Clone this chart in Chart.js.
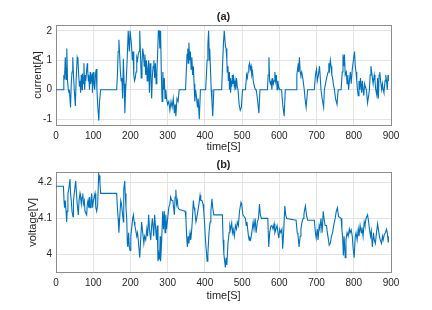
<!DOCTYPE html>
<html>
<head>
<meta charset="utf-8">
<script src="https://cdn.jsdelivr.net/npm/chart.js@4.4.0/dist/chart.umd.min.js"></script>
<style>
  html, body { margin: 0; padding: 0; background: #fff; }
  .panel { position: absolute; left: 0; width: 432px; height: 155px; }
</style>
</head>
<body>
<div class="panel" style="top:0"><canvas id="current-chart" width="432" height="155"></canvas></div>
<div class="panel" style="top:155px"><canvas id="voltage-chart" width="432" height="155"></canvas></div>
<script>
// ===== values: [time s, value] =====
const currentData = [
  [0,0],[20,0],[21,0.45],[23,0.4],[25,1.1],[27,0.35],[29,1.4],[31,0.3],[33,0],[35,-0.1],
  [36,0],[39,-0.6],[41,0.2],[43,0.6],[45,1.1],[47,0.5],[49,0],[52,-0.55],[54,0.3],[57,1.1],
  [59,1.0],[61,0.5],[63,0.1],[65,0.3],[66,-0.1],[68,0.5],[70,0],[71,0.55],[73,0.2],[75,0.9],
  [77,0],[79,0.5],[80,0.3],[82,0.6],[84,0.9],[85,0.7],[87,0.3],[88,0.5],[90,0],[92,0.6],
  [93,0.2],[95,0.35],[97,0.55],[98,-0.1],[100,0.6],[102,0.2],[104,0],[106,0.5],[108,0.7],[110,0],
  [112,-0.5],[115,-1.05],[117,-0.4],[120,0],[163,0],
  [165,0.5],[167,1.3],[169,1.7],[171,1.2],[173,0.6],[175,0.3],[177,0.4],[179,-0.3],[181,1.05],[183,0.2],
  [185,-0.8],[187,0],[189,0.4],[192,1.3],[194,2.0],[196,2.0],[197,1.3],[199,2.0],[201,2.0],[203,1.5],
  [205,1.0],[207,1.3],[209,0.5],[211,0.3],[213,0.4],[215,0.6],[217,1.1],[219,1.0],[221,1.2],[223,1.3],
  [225,2.0],[227,1.2],[229,0.4],[231,0.9],[233,1.4],[235,1.2],[237,0.8],[239,1.2],[241,0.5],[243,1.0],
  [245,0.3],[247,0.7],[249,1.0],[251,-0.1],[253,0.9],[255,0.5],[257,-0.3],[259,0.5],[261,0.8],[263,1.0],
  [265,0.4],[267,0.9],[269,0.2],[271,0.6],[273,1.2],[275,2.0],[277,2.0],[279,1.4],[281,2.0],[283,0.5],
  [285,-0.4],[287,0.6],[289,0],[291,0.4],[293,-0.3],[295,0],[297,-0.3],[300,-0.5],[303,-0.4],[306,-0.7],
  [309,-0.4],[312,-0.6],[315,-0.3],[318,-0.8],[320,-0.5],[322,-0.9],[325,-0.3],[328,-0.4],[331,0],[348,0],
  [350,0.6],[352,1.2],[354,1.4],[355,0.9],[357,1.6],[359,1.0],[361,1.3],[363,0.7],[365,1.1],[367,0.5],
  [369,0.8],[371,0.2],[373,-0.4],[375,0],[377,-0.2],[380,-0.6],[382,-0.3],[385,-1.0],[388,0],[402,0],
  [404,0.5],[406,1.0],[408,1.5],[410,2.0],[412,1.0],[413,1.4],[415,0.7],[417,0],[419,-0.4],[421,-0.9],
  [424,0],[445,0],
  [448,1.0],[450,1.6],[452,2.0],[454,2.0],[455,1.5],[457,1.4],[459,1.0],[460,0.6],[462,0.8],[463,0.3],
  [465,0.6],[466,0],[468,0.4],[469,-0.1],[471,0.3],[472,0.1],[474,0.5],[475,0.2],[477,0.4],[479,0.1],
  [481,0.3],[483,0],[485,0.4],[487,0.1],[489,0],[492,-0.5],[495,-0.7],[498,-0.6],[501,0],[509,0],
  [512,0.5],[514,0.4],[516,0.6],[518,0.8],[520,0.9],[522,0.7],[524,0.8],[526,0.5],[528,0.6],[530,0.3],
  [533,0.1],[536,0],[538,0],[541,-0.3],[545,-0.8],[548,0],[568,0],
  [570,0.5],[572,1.1],[574,0.3],[576,0.2],[578,0.3],[580,0],[582,0.4],[584,0.2],[586,0.3],[588,0.6],
  [590,0.3],[592,0.5],[594,0],[596,0.3],[598,0.1],[601,0],[606,0],[609,-0.5],[613,-0.9],[616,0],[645,0],
  [647,0.5],[649,0.7],[651,0.9],[652,0.6],[654,1.1],[656,0.6],[658,0.5],[660,0.6],[663,0.4],[665,0.2],
  [667,0],[669,-0.3],[672,-0.6],[676,0],[694,0],
  [697,0.5],[700,0.7],[702,0.3],[705,0.5],[708,0.8],[710,0.4],[712,0],[715,-0.3],[719,-0.6],[721,0],
  [724,0.2],[727,0.4],[731,0.6],[733,0.9],[735,0.7],[737,1.0],[739,0.8],[741,0.5],[743,0.4],[745,0.2],
  [748,0],[751,-0.3],[755,-0.5],[758,0],[766,0],
  [769,0.6],[771,1.2],[773,0.8],[775,1.2],[777,0.5],[780,0.6],[782,0.2],[784,0.5],[786,0],[789,0.4],
  [791,0.6],[793,0.2],[796,0.7],[799,1.0],[802,1.3],[804,0.8],[806,0.6],[808,0.3],[810,0],[812,-0.2],
  [814,0.3],[816,0],[818,0.4],[821,-0.1],[823,0.3],[825,0],[827,-0.2],[829,0.2],[831,0.1],[834,0],
  [837,-0.45],[840,-0.2],[842,0],[844,0.5],[846,0.8],[848,0.6],[850,0.4],[852,0.2],[855,0.5],[857,0.3],
  [859,0],[862,-0.2],[864,0.4],[866,-0.3],[868,0.5],[870,0.6],[872,0.3],[875,0],[877,0.2],[879,0],
  [881,-0.1],[884,0.3],[886,0.5],[888,0.3],[890,0],[892,0.5],[893,0.3]
];

const voltageData = [
  [0,4.19],[20,4.19],[21.5,4.15],[23,4.13],[25,4.15],[27,4.12],[28.7,4.09],[30,4.12],[32,4.17],[34,4.18],
  [37.6,4.21],[39,4.17],[41,4.15],[43,4.12],[45.7,4.105],[47,4.15],[49,4.17],[52.9,4.205],[55,4.17],[57,4.14],
  [60,4.11],[62,4.15],[64.5,4.17],[66,4.16],[68,4.14],[70,4.16],[72,4.17],[73.5,4.14],[76,4.15],[78,4.12],
  [82.4,4.11],[84,4.14],[86,4.15],[88,4.13],[90,4.16],[91.4,4.13],[94,4.15],[96,4.17],[98,4.13],[100.4,4.15],
  [104.8,4.17],[107,4.13],[109.3,4.12],[112,4.14],[114.7,4.225],[116,4.22],[118,4.20],[120,4.17],[163,4.17],
  [165,4.13],[167,4.10],[169,4.06],[171,4.10],[174,4.15],[176,4.14],[178,4.12],[181,4.09],[182,4.18],[184.6,4.205],
  [186,4.17],[188,4.13],[190,4.10],[191.7,4.03],[193,4.02],[195,4.06],[197,4.02],[199,4.01],[201,4.05],[203,4.07],
  [206,4.10],[208,4.11],[210,4.09],[212,4.08],[217,4.05],[219,4.06],[221,4.04],[225,3.99],[227,4.03],[230,4.09],
  [233,4.06],[236,4.03],[238,4.05],[241,4.04],[244,4.07],[246,4.05],[249,4.11],[251,4.07],[254.5,4.04],[257,4.08],
  [259,4.10],[262.6,4.05],[265,4.11],[267,4.08],[270,4.04],[272,4.08],[274,3.98],[276,4.0],[278,3.985],[280,4.05],
  [281,3.98],[284,4.04],[286.7,4.12],[289,4.07],[291,4.12],[293,4.06],[295,4.11],[297,4.07],[300,4.10],[303,4.13],
  [306,4.14],[308,4.16],[311,4.15],[314,4.15],[316,4.13],[318,4.11],[320,4.16],[322,4.18],[324,4.14],[326,4.15],
  [328,4.13],[331.5,4.125],[347,4.12],
  [349,4.10],[351,4.05],[353,4.02],[355,4.05],[357,4.03],[360,4.06],[362,4.04],[364,4.06],[366,4.09],[369,4.15],
  [371,4.13],[373,4.12],[376,4.09],[378,4.10],[381,4.12],[384,4.14],[387,4.165],[389,4.15],[392,4.15],[395,4.14],
  [397,4.12],[399,4.09],[401,4.05],[403,4.02],[406,3.98],[408,4.00],[411,4.06],[414,4.09],[416,4.12],[419,4.155],
  [421,4.13],[424,4.11],[427,4.11],[447,4.11],
  [449,4.04],[451,4.0],[455,3.963],[457,3.99],[459,3.97],[462,4.03],[465,4.06],[467,4.08],[469,4.07],[472,4.087],
  [474,4.06],[476,4.07],[479,4.05],[482,4.08],[485,4.07],[487,4.09],[490,4.08],[493,4.12],[497,4.145],[499,4.14],
  [502,4.11],[509,4.10],[511,4.08],[513,4.09],[515,4.07],[517,4.05],[519,4.039],[521,4.045],[523,4.04],[526,4.06],
  [529.6,4.09],[532,4.07],[535,4.10],[537.6,4.06],[541,4.09],[544,4.10],[546.6,4.14],[549,4.11],[552,4.10],[569,4.10],
  [571.6,4.02],[574,4.06],[577,4.077],[580,4.08],[583,4.07],[586,4.085],[588,4.06],[591,4.07],[594,4.08],[597,4.055],
  [598.6,4.045],[601,4.07],[604,4.06],[607,4.07],[609,4.015],[612,4.07],[614.7,4.135],[617,4.11],[620,4.10],[645,4.095],
  [648,4.06],[650,4.055],[653,4.02],[656,4.05],[658,4.07],[661,4.09],[664,4.10],[666,4.11],[668,4.125],[670,4.135],
  [673,4.11],[676,4.095],[694,4.095],
  [697,4.06],[699,4.045],[702,4.07],[704,4.04],[707,4.08],[709,4.07],[712,4.10],[715,4.06],[718,4.12],[720,4.10],
  [723,4.08],[726.7,4.08],[729,4.06],[732,4.04],[734,4.025],[737,4.03],[740,4.05],[743,4.06],[746,4.08],[750,4.10],
  [753,4.12],[756,4.13],[759,4.105],[766,4.10],[768,4.07],[770,4.049],[772,3.996],[774,4.05],[777,3.99],[779,4.04],
  [782,4.06],[785,4.05],[788,4.07],[790,4.06],[793,4.068],[796,4.05],[798,4.02],[801,3.99],[804,4.05],[806,4.06],
  [809,4.04],[812,4.07],[814,4.05],[817,4.08],[820,4.06],[822,4.075],[825,4.05],[828,4.09],[830,4.08],[833,4.10],
  [837,4.11],[840,4.09],[842,4.07],[845,4.05],[847,4.065],[850,4.02],[853,4.06],[855,4.04],[858,4.03],[861,4.06],
  [864,4.085],[866,4.07],[869,4.05],[871,4.04],[874.6,4.03],[877,4.05],[879,4.04],[882,4.055],[885,4.06],[888,4.07],
  [890,4.06],[892.5,4.034],[893,4.05]
];

const timeTicks = { min: 0, max: 900, step: 100 };
const currentTicks = { min: -1.2, max: 2.2, step: 1 };
const voltageTicks = { min: 3.95, max: 4.228, step: 0.1 };

// ===== look =====
const FONT = 'Liberation Sans, Arial, Helvetica, sans-serif';
const TEXT = '#262626';
const GRID = '#e3e3e3';
const BOX = '#8c8c8c';
const LINE = '#0072BD';

Chart.defaults.font.family = FONT;

// put the title over the plot box, like matlab does
const centerTitle = {
    id: 'centerTitle',
    afterLayout(chart) {
        const t = chart.titleBlock;
        if (t) {
            t.left = chart.chartArea.left;
            t.right = chart.chartArea.right;
        }
    }
};

function makePanel(canvasId, points, cfg) {
    const ctx = document.getElementById(canvasId).getContext('2d');
    return new Chart(ctx, {
        type: 'line',
        data: {
            datasets: [{
                data: points.map(p => ({ x: p[0], y: p[1] })),
                borderColor: LINE,
                borderWidth: 1.1,
                pointRadius: 0,
                tension: 0,
                fill: false
            }]
        },
        options: {
            responsive: false,
            animation: false,
            layout: { padding: { left: 0, right: 41, top: 0, bottom: 0 } },
            plugins: {
                legend: { display: false },
                tooltip: { enabled: false },
                title: {
                    display: true,
                    text: cfg.title,
                    color: TEXT,
                    font: { size: 11, weight: 'bold' },
                    padding: cfg.titlePad
                }
            },
            scales: {
                x: {
                    type: 'linear',
                    min: timeTicks.min,
                    max: timeTicks.max,
                    ticks: { stepSize: timeTicks.step, padding: 5, color: TEXT, font: { size: 10 }, maxRotation: 0, autoSkip: false },
                    grid: { color: GRID, drawTicks: false },
                    border: { color: BOX },
                    title: { display: true, text: 'time[S]', color: TEXT, font: { size: 11 }, padding: { top: 0, bottom: cfg.xTitleBottom } },
                    afterFit: s => { s.height = cfg.xHeight; s.paddingLeft = 0; s.paddingRight = 0; }
                },
                y: {
                    type: 'linear',
                    min: cfg.ticks.min,
                    max: cfg.ticks.max,
                    ticks: {
                        stepSize: cfg.ticks.step,
                        includeBounds: false,
                        padding: 4,
                        color: TEXT,
                        font: { size: 10 },
                        callback: v => String(Number(v.toFixed(2)))
                    },
                    grid: { color: GRID, drawTicks: false },
                    border: { color: BOX },
                    title: { display: true, text: cfg.yLabel, color: TEXT, font: { size: 11 }, padding: { top: cfg.yTitleLeft, bottom: 0 } },
                    afterFit: s => { s.width = 56; s.paddingTop = 0; s.paddingBottom = 0; }
                },
                x2: {
                    type: 'linear', position: 'top', min: 0, max: 1,
                    ticks: { display: false }, grid: { display: false }, border: { color: BOX },
                    afterFit: s => { s.height = 0; }
                },
                y2: {
                    type: 'linear', position: 'right', min: 0, max: 1,
                    ticks: { display: false }, grid: { display: false }, border: { color: BOX },
                    afterFit: s => { s.width = 0; }
                }
            }
        },
        plugins: [centerTitle]
    });
}

makePanel('current-chart', currentData, {
    title: '(a)',
    titlePad: { top: 10, bottom: 1.8 },
    xHeight: 30,
    xTitleBottom: 1.4,
    ticks: currentTicks,
    yLabel: 'current[A]',
    yTitleLeft: 31
});

makePanel('voltage-chart', voltageData, {
    title: '(b)',
    titlePad: { top: 3.4, bottom: 1.1 },
    xHeight: 38,
    xTitleBottom: 7.7,
    ticks: voltageTicks,
    yLabel: 'voltage[V]',
    yTitleLeft: 26
});
</script>
</body>
</html>
